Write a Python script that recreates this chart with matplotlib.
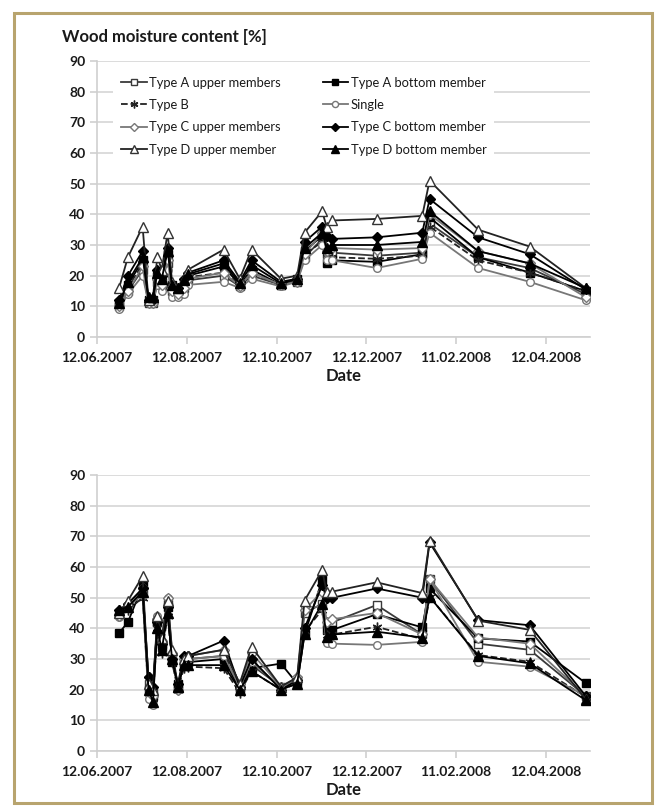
import matplotlib
matplotlib.use("Agg")
import matplotlib.pyplot as plt
import matplotlib.dates as mdates
from matplotlib.patches import Rectangle
from datetime import datetime, timedelta

plt.rcParams['font.family'] = ['Lato', 'DejaVu Sans']

# ---------------- data ----------------
dates_str = ["27.06.2007", "03.07.2007", "13.07.2007", "17.07.2007", "20.07.2007",
             "23.07.2007", "26.07.2007", "30.07.2007", "02.08.2007", "06.08.2007",
             "10.08.2007", "13.08.2007", "06.09.2007", "17.09.2007", "25.09.2007",
             "15.10.2007", "26.10.2007", "31.10.2007", "12.11.2007", "15.11.2007",
             "19.11.2007", "19.12.2007", "19.01.2008", "24.01.2008", "26.02.2008",
             "01.04.2008", "09.05.2008"]

series_names = ["Type A upper members", "Type A bottom member", "Type B", "Single",
                "Type C upper members", "Type C bottom member", "Type D upper member",
                "Type D bottom member"]

# top panel
top_a_upper = [10, 15, 22, 11, 11, 18, 17, 24, 15, 14, 16, 18.5, 20, 16.5, 20, 17, 18, 26, 32, 27, 27.5, 26.5, 27.5, 37, 26, 22.5, 14]
top_a_bottom = [11, 17, 25, 12, 12, 20, 18, 27, 17, 15, 18, 20, 23, 17, 22, 17, 19, 28, 33, 24, 25, 24.5, 27, 39, 26, 21, 15]
top_b = [10, 16, 24, 12, 12, 20, 18, 26, 16, 15, 17.5, 19.5, 21, 17, 21, 17, 18.5, 27, 31, 26, 26, 25.5, 26.5, 36, 25, 21, 15]
top_single = [9, 14, 20, 11, 11, 17, 15, 22, 13, 13, 14, 17, 18, 16, 19, 16.5, 18, 25, 30, 25, 25, 22.5, 25.5, 34, 22.5, 18, 12]
top_c_upper = [10, 15, 23, 11, 11, 19, 17, 25, 15, 14, 16, 19, 21, 16.5, 21, 17, 18, 27, 34, 28, 29, 28.5, 29, 40, 28, 24, 13]
top_c_bottom = [12, 20, 28, 12, 12, 22, 20, 29, 17, 16, 19, 21, 25, 18, 25, 18, 19, 31, 36, 33, 32, 32.5, 34, 45, 32.5, 27, 15.5]
top_d_upper = [16, 26, 36, 12, 13, 26, 22, 34, 18, 16, 19, 22, 28.5, 19, 28.5, 19, 20, 34, 41, 36, 38, 38.5, 39.5, 51, 35, 29.5, 16]
top_d_bottom = [11, 18, 26, 13, 13, 21, 19, 28, 17, 16, 18.5, 20.5, 24, 17.5, 23.5, 17.5, 19, 29, 34, 29, 30, 30, 31, 41, 28, 24, 16]

# bottom panel
bot_a_upper = [45, 47, 52, 22, 19, 42, 35, 48, 30, 21, 29, 30, 31, 21, 28, 21, 23, 45, 48, 41.6, 42, 47.6, 38, 56, 35, 33, 18]
bot_a_bottom = [38.5, 42, 54, 20, 18, 42, 34, 47, 29, 22, 28, 29, 30, 20, 27, 28.5, 22, 38, 55.8, 39.5, 39.5, 44.6, 40.3, 53, 36.7, 35.7, 22.2]
bot_b = [45, 46, 50, 19, 17, 40, 32, 44, 29, 20, 27, 27.5, 27, 19, 26, 20, 22, 39, 46, 37.8, 38, 40.5, 36.5, 50.3, 31.3, 29.1, 17.7]
bot_single = [43.8, 47, 51, 17, 15, 44, 36, 50, 31, 19.9, 29, 30, 31, 21, 29, 21, 23, 47, 47, 35.1, 35, 34.6, 35.6, 56, 29.1, 27.5, 18]
bot_c_upper = [44, 48, 53, 24, 18, 43, 36, 50, 32, 20, 30, 31, 33, 22, 32, 21, 24, 46, 52, 42, 43, 45, 38, 56, 37, 35, 18]
bot_c_bottom = [46, 48, 53, 24, 21, 42, 35, 47, 30, 22, 31, 31, 36, 21, 30, 20, 23, 40, 54, 50, 50, 53, 50, 68, 42.7, 41, 18]
bot_d_upper = [45, 49, 57, 22, 20, 44, 37, 49, 33, 21, 30, 31, 33, 22, 34, 21, 24, 49, 59, 52, 52, 55, 51.5, 68.5, 42.5, 39.5, 17]
bot_d_bottom = [46, 47, 52, 20, 16, 40, 33, 45, 30, 21, 28, 28, 28, 20, 26, 20, 22, 38, 48, 37.3, 38, 38.9, 37, 50.3, 31, 28.6, 16.6]

x_start = "12.06.2007"
x_end = "12.05.2008"
tick_step_days = 61
y_ticks = [0, 10, 20, 30, 40, 50, 60, 70, 80, 90]

# ---------------- styling ----------------
styles = [
    dict(color='#3a3a3a', ls='-', marker='s', mfc='white', mec='#3a3a3a', ms=5.5),
    dict(color='black', ls='-', marker='s', mfc='black', mec='black', ms=5.5),
    dict(color='#222222', ls='--', marker=(6, 2, 0), mfc='none', mec='#222222', ms=7),
    dict(color='#777777', ls='-', marker='o', mfc='white', mec='#777777', ms=5.5),
    dict(color='#777777', ls='-', marker='D', mfc='white', mec='#777777', ms=5),
    dict(color='black', ls='-', marker='D', mfc='black', mec='black', ms=5),
    dict(color='#222222', ls='-', marker='^', mfc='white', mec='#333333', ms=7.5),
    dict(color='black', ls='-', marker='^', mfc='black', mec='black', ms=6.5),
]

W, H = 662, 808
fig = plt.figure(figsize=(W / 100, H / 100), dpi=100)
fig.patch.set_facecolor('white')

dates = [datetime.strptime(d, "%d.%m.%Y") for d in dates_str]
xs = datetime.strptime(x_start, "%d.%m.%Y")
xe = datetime.strptime(x_end, "%d.%m.%Y")
ticks = []
t = xs
while t <= xe:
    ticks.append(t)
    t = t + timedelta(days=tick_step_days)

def setup(ax):
    ax.set_xlim(xs, xe)
    ax.set_ylim(0, 90)
    ax.set_yticks(y_ticks)
    ax.set_xticks(ticks)
    ax.xaxis.set_major_formatter(mdates.DateFormatter("%d.%m.%Y"))
    ax.grid(axis='y', color='#d9d9d9', lw=1.3)
    ax.set_axisbelow(True)
    for s in ['top', 'right']:
        ax.spines[s].set_visible(False)
    for s in ['left', 'bottom']:
        ax.spines[s].set_color('#cfcfcf')
        ax.spines[s].set_linewidth(1.2)
    ax.tick_params(axis='both', colors='#cfcfcf', length=5, width=1.2,
                   labelcolor='#1a1a1a', labelsize=10)
    ax.tick_params(axis='x', pad=6)
    for lab in ax.get_xticklabels() + ax.get_yticklabels():
        lab.set_fontweight('bold')
    ax.set_xlabel("Date", fontsize=12, fontweight='bold', color='#1a1a1a', labelpad=3)

top_data = [top_a_upper, top_a_bottom, top_b, top_single, top_c_upper, top_c_bottom, top_d_upper, top_d_bottom]
bot_data = [bot_a_upper, bot_a_bottom, bot_b, bot_single, bot_c_upper, bot_c_bottom, bot_d_upper, bot_d_bottom]

ax1 = fig.add_axes([97 / W, 1 - 337 / H, (590 - 97) / W, (337 - 61) / H])
ax2 = fig.add_axes([97 / W, 1 - 751 / H, (590 - 97) / W, (751 - 475) / H])

handles = []
for ax, data in [(ax1, top_data), (ax2, bot_data)]:
    setup(ax)
    hs = []
    for name, vals, st in zip(series_names, data, styles):
        h, = ax.plot(dates, vals, label=name, lw=1.3, color=st['color'], ls=st['ls'],
                     marker=st['marker'], mfc=st['mfc'], mec=st['mec'], ms=st['ms'], mew=1)
        hs.append(h)
    handles.append(hs)

hs = handles[0]
order = [0, 2, 4, 6, 1, 3, 5, 7]
leg = ax1.legend([hs[i] for i in order], [series_names[i] for i in order], ncol=2,
                 loc='upper left', bbox_to_anchor=(0.02, 0.995), frameon=True,
                 fontsize=9.3, handlelength=2.0, handletextpad=0.2, columnspacing=3.2,
                 labelspacing=0.8, borderpad=0.6, markerscale=0.8)
leg.get_frame().set_edgecolor('none')
leg.get_frame().set_facecolor('white')
leg.get_frame().set_alpha(1)
for txt in leg.get_texts():
    txt.set_color('#1a1a1a')

fig.text(62 / W, 1 - 37 / H, "Wood moisture content [%]", fontsize=12, fontweight='bold',
         color='#1a1a1a', va='center', ha='left')

fig.patches.append(Rectangle((14 / W, 1 - 803 / H), (652 - 14) / W, (803 - 13) / H,
                             transform=fig.transFigure, fill=False, edgecolor='#b8a46e', lw=2.2))

fig.savefig("out.png", dpi=100, facecolor='white')
